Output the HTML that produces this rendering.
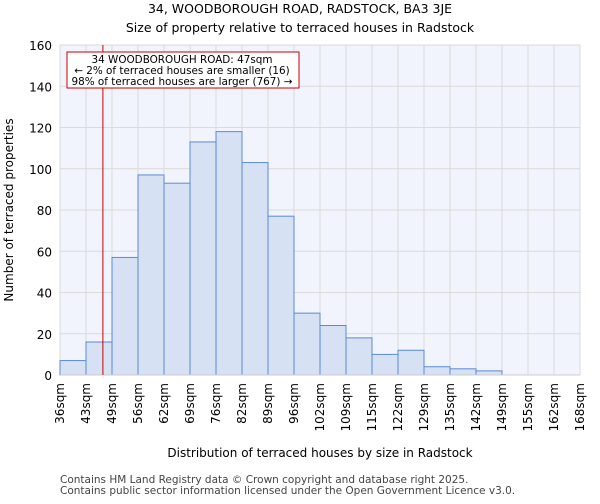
<!DOCTYPE html>
<html><head><meta charset="utf-8"><style>
body{margin:0;background:#fff;font-family:"DejaVu Sans","Liberation Sans",sans-serif;}
</style></head><body>
<svg id="chart" width="600" height="500" xmlns="http://www.w3.org/2000/svg" font-family="DejaVu Sans, Liberation Sans, sans-serif">
<text x="300" y="13" text-anchor="middle" font-size="12.5">34, WOODBOROUGH ROAD, RADSTOCK, BA3 3JE</text>
<text x="300" y="32" text-anchor="middle" font-size="12.5">Size of property relative to terraced houses in Radstock</text>
<rect x="60" y="45" width="520" height="330" fill="#f1f4fc"/>
<g id="grid"></g><g id="bars"></g><g id="axes"></g>
<text x="320" y="457" text-anchor="middle" font-size="12">Distribution of terraced houses by size in Radstock</text>
<text transform="translate(13,210) rotate(-90)" text-anchor="middle" font-size="12">Number of terraced properties</text>
<text x="60" y="483" font-size="10.5" fill="#444">Contains HM Land Registry data © Crown copyright and database right 2025.</text>
<text x="60" y="494" font-size="10.5" fill="#444">Contains public sector information licensed under the Open Government Licence v3.0.</text>
</svg>
<script>
const categories=["36sqm","43sqm","49sqm","56sqm","62sqm","69sqm","76sqm","82sqm","89sqm","96sqm","102sqm","109sqm","115sqm","122sqm","129sqm","135sqm","142sqm","149sqm","155sqm","162sqm","168sqm"];
const counts=[7,16,57,97,93,113,118,103,77,30,24,18,10,12,4,3,2,0,0,0];
const yTicks=[0,20,40,60,80,100,120,140,160];
const markerBin=1.65;
const NS="http://www.w3.org/2000/svg";
const X0=60,X1=580,Y0=375,Y1=45,YMAX=160;
const bw=(X1-X0)/counts.length;
const xs=i=>X0+i*bw;
const ys=v=>Y0-(v/YMAX)*(Y0-Y1);
function mk(t,a,p){const e=document.createElementNS(NS,t);for(const k in a)e.setAttribute(k,a[k]);p.appendChild(e);return e;}
const grid=document.getElementById('grid'),bars=document.getElementById('bars'),axes=document.getElementById('axes');
yTicks.forEach(v=>{
 const l=mk('line',{x1:X0,x2:X1,y1:ys(v),y2:ys(v),stroke:'#dadada','stroke-width':1},grid);
 
 
 const t=mk('text',{x:X0-8,y:ys(v)+5,'text-anchor':'end','font-size':12},axes);
 t.textContent=v;
 
 
});
categories.forEach((c,i)=>{
 const l=mk('line',{x1:xs(i),x2:xs(i),y1:Y1,y2:Y0,stroke:'#dadada','stroke-width':1},grid);
 
 
 const t=mk('text',{transform:`translate(${xs(i)+4},${Y0+8}) rotate(-90)`,'text-anchor':'end','font-size':12},axes);
 t.textContent=c;
 
 
});
counts.forEach((v,i)=>{
 if(v<=0)return;
 const r=mk('rect',{x:xs(i),y:ys(v),width:bw,height:Y0-ys(v),fill:'#d6e1f4',stroke:'#5a8ad6','stroke-width':1},bars);
 
 
});
const ax=mk('line',{x1:X0,x2:X1,y1:Y0,y2:Y0,stroke:'#ccc','stroke-width':1},axes);


const mx=xs(markerBin);
const m=mk('line',{x1:mx,x2:mx,y1:Y1,y2:Y0,stroke:'#cc0000','stroke-width':1},axes);


const g=mk('g',{},axes);


mk('rect',{x:67,y:52,width:232,height:36,fill:'#fff',stroke:'#cc0000','stroke-width':1},g);
["34 WOODBOROUGH ROAD: 47sqm","← 2% of terraced houses are smaller (16)","98% of terraced houses are larger (767) →"].forEach((s,k)=>{
 const t=mk('text',{x:182,y:63+k*11,'text-anchor':'middle','font-size':10.4},g);
 t.textContent=s;
 
 
});
</script>
</body></html>
